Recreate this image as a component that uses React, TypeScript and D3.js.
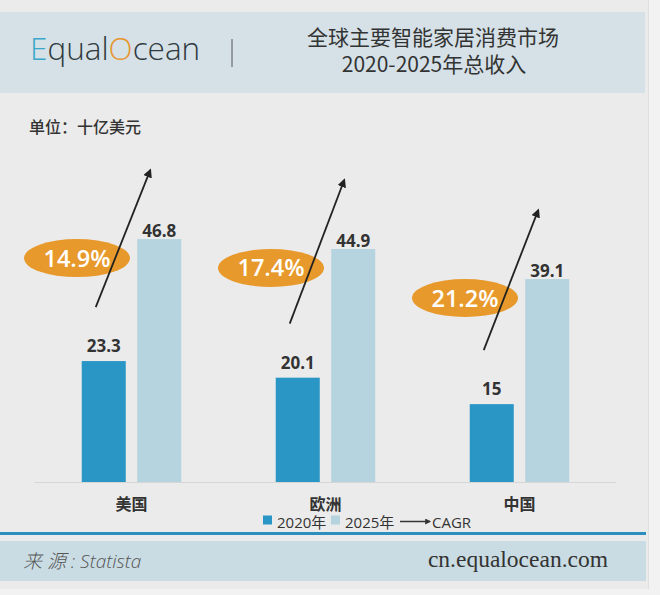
import React from "react";
import * as d3 from "d3";

const categories = ["美国", "欧洲", "中国"];
const seriesNames = ["2020年", "2025年"];
const values2020 = [23.3, 20.1, 15];
const values2025 = [46.8, 44.9, 39.1];
const cagrLabels = ["14.9%", "17.4%", "21.2%"];

const W = 660;
const H = 595;
const C2020 = "#2996c6";
const C2025 = "#b5d4df";
const ORANGE = "#e8992c";
const CJK = "'Noto Sans CJK SC', 'Open Sans', sans-serif";
const LATIN = "'Open Sans', 'Noto Sans CJK SC', sans-serif";

export default function App() {
  const baseY = 482;
  const x = d3.scaleBand<string>().domain(categories).range([34.5, 616.5]);
  const xs = d3
    .scaleBand<string>()
    .domain(seriesNames)
    .range([0, x.bandwidth()])
    .paddingInner(0.207)
    .paddingOuter(0.851);
  const y = d3.scaleLinear().domain([0, 50]).range([baseY, baseY - 50 * 5.19]);
  const bw = xs.bandwidth();

  return (
    <svg
      width={W}
      height={H}
      style={{ position: "absolute", left: 0, top: 0 }}
      xmlns="http://www.w3.org/2000/svg"
    >
      <defs>
        <marker
          id="ah"
          viewBox="0 0 10 10"
          refX="8"
          refY="5"
          markerWidth="5"
          markerHeight="5"
          orient="auto"
        >
          <path d="M0,0 L10,5 L0,10 z" fill="#222" />
        </marker>
        <marker
          id="ah2"
          viewBox="0 0 10 10"
          refX="8"
          refY="5"
          markerWidth="4"
          markerHeight="4"
          orient="auto"
        >
          <path d="M0,0 L10,5 L0,10 z" fill="#333" />
        </marker>
      </defs>
      <rect x={0} y={0} width={W} height={H} fill="#f2f2f2" />
      <rect x={0} y={0} width={648} height={589} fill="#ebebeb" />
      <line x1={648.5} x2={648.5} y1={0} y2={589} stroke="#e0e0e0" />

      {/* header */}
      <rect x={0} y={12} width={645} height={81} fill="#d5e1e7" />
      <text
        x={30}
        y={60}
        fontFamily={LATIN}
        fontWeight={300}
        fontSize={31.5}
        fill="#2f3a40"
      >
        <tspan fill="#3aa6c9">E</tspan>
        <tspan>qual</tspan>
        <tspan fill="#e8952f">O</tspan>
        <tspan>cean</tspan>
      </text>
      <line x1={232} x2={232} y1={39} y2={67} stroke="#555" strokeWidth={1} />
      <text
        x={433}
        y={44.5}
        textAnchor="middle"
        fontFamily={CJK}
        fontSize={21}
        fill="#333"
      >
        全球主要智能家居消费市场
      </text>
      <text
        x={434}
        y={72}
        textAnchor="middle"
        fontFamily={CJK}
        fontSize={21}
        fill="#333"
      >
        2020-2025年总收入
      </text>

      <text
        x={29}
        y={133}
        fontFamily={CJK}
        fontWeight={500}
        fontSize={16}
        fill="#333"
      >
        单位：十亿美元
      </text>

      {/* axis */}
      <line
        x1={x.range()[0]}
        x2={x.range()[1]}
        y1={baseY + 0.5}
        y2={baseY + 0.5}
        stroke="#d6d6d6"
        strokeWidth={1}
      />

      {categories.map((c, i) => {
        const x0 = x(c)!;
        const xa = x0 + xs(seriesNames[0])!;
        const xb = x0 + xs(seriesNames[1])!;
        const ya = y(values2020[i]);
        const yb = y(values2025[i]);
        const cx = x0 + 42.5;
        const cy = yb + 19;
        return (
          <g key={c}>
            <rect x={xa} y={ya} width={bw} height={baseY - ya} fill={C2020} />
            <rect x={xb} y={yb} width={bw} height={baseY - yb} fill={C2025} />
            <text
              x={xa + bw / 2}
              y={ya - 9}
              textAnchor="middle"
              fontFamily={LATIN}
              fontWeight={700}
              fontSize={17}
              fill="#333"
            >
              {values2020[i]}
            </text>
            <text
              x={xb + bw / 2}
              y={yb - 2}
              textAnchor="middle"
              fontFamily={LATIN}
              fontWeight={700}
              fontSize={17}
              fill="#333"
            >
              {values2025[i]}
            </text>
            <text
              x={x0 + x.bandwidth() / 2}
              y={510}
              textAnchor="middle"
              fontFamily={CJK}
              fontWeight={700}
              fontSize={16}
              fill="#333"
            >
              {c}
            </text>
            <ellipse cx={cx} cy={cy} rx={53} ry={19} fill={ORANGE} />
            <line
              x1={xa + bw / 2 - 8}
              y1={ya - 54}
              x2={xb + bw / 2 - 9}
              y2={yb - 69}
              stroke="#222"
              strokeWidth={1.8}
              markerEnd="url(#ah)"
            />
            <text
              x={cx}
              y={cy + 8.5}
              textAnchor="middle"
              fontFamily={LATIN}
              fontWeight={600}
              fontSize={23.5}
              fill="#ffffff"
            >
              {cagrLabels[i]}
            </text>
          </g>
        );
      })}

      {/* legend */}
      <rect x={263} y={515.5} width={9} height={9} fill={C2020} />
      <text x={277} y={528} fontFamily={LATIN} fontSize={15} fill="#333">
        {seriesNames[0]}
      </text>
      <rect x={331} y={515.5} width={9} height={9} fill={C2025} />
      <text x={345} y={528} fontFamily={LATIN} fontSize={15} fill="#333">
        {seriesNames[1]}
      </text>
      <line
        x1={400}
        x2={430}
        y1={521.5}
        y2={521.5}
        stroke="#333"
        strokeWidth={1.5}
        markerEnd="url(#ah2)"
      />
      <text x={432} y={528} fontFamily={LATIN} fontSize={15} fill="#333">
        CAGR
      </text>

      {/* footer */}
      <rect x={0} y={532} width={646} height={3} fill="#2e8fbf" />
      <rect x={0} y={541} width={646} height={40} fill="#cadce3" />
      <text
        x={23}
        y={568}
        fontFamily={LATIN}
        fontStyle="italic"
        fontWeight={300}
        fontSize={19}
        fill="#555"
      >
        来 源 : Statista
      </text>
      <text
        x={608}
        y={567}
        textAnchor="end"
        fontFamily="'Liberation Serif', 'DejaVu Serif', serif"
        fontSize={23.5}
        fill="#333"
      >
        cn.equalocean.com
      </text>
    </svg>
  );
}
